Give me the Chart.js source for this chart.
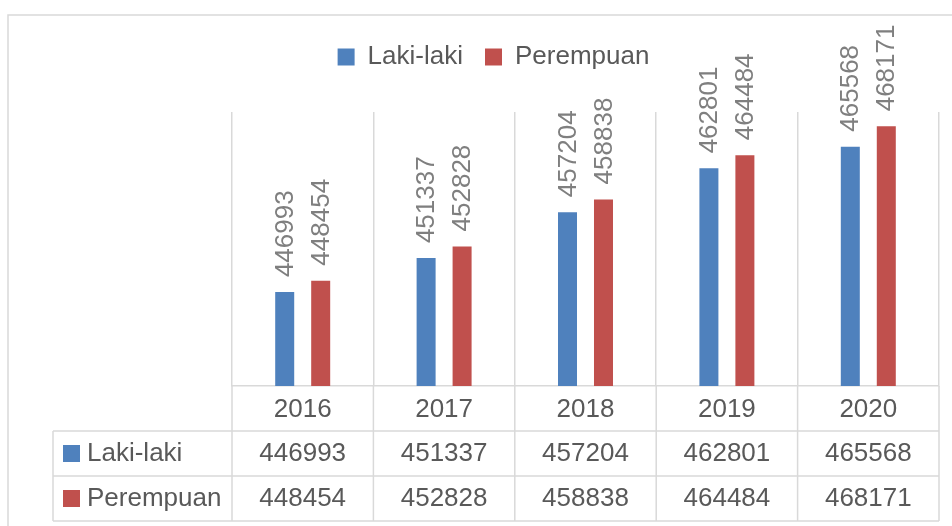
<!DOCTYPE html>
<html>
<head>
<meta charset="utf-8">
<script src="https://cdn.jsdelivr.net/npm/chart.js@4.4.0/dist/chart.umd.min.js"></script>
<style>
  html, body { margin: 0; padding: 0; background: #fff; }
  #wrap { width: 952px; height: 526px; }
</style>
</head>
<body>
<div id="wrap"><canvas id="chart"></canvas></div>
<script>
// Data
const years = ["2016", "2017", "2018", "2019", "2020"];
const lakiLaki = [446993, 451337, 457204, 462801, 465568];
const perempuan = [448454, 452828, 458838, 464484, 468171];
const seriesNames = ["Laki-laki", "Perempuan"];
const yMin = 435000;
const yMax = 470000;

const colors = ["#4f81bd", "#c0504d"];
const gridColor = "#d9d9d9";
const textColor = "#595959";
const fontFamily = "'Liberation Sans', Arial, sans-serif";
const rowHeight = 45;

// Give the legend the room above the plot
const legendSpace = {
  id: "legendSpace",
  beforeInit(chart) {
    const fit = chart.legend.fit;
    chart.legend.fit = function () {
      fit.call(this);
      this.height = 90;
    };
  }
};

// Rotated value labels above each bar
const barLabels = {
  id: "barLabels",
  afterDatasetsDraw(chart) {
    const ctx = chart.ctx;
    ctx.save();
    ctx.font = "26px " + fontFamily;
    ctx.fillStyle = "#7f7f7f";
    ctx.textAlign = "left";
    ctx.textBaseline = "middle";
    chart.data.datasets.forEach((ds, d) => {
      chart.getDatasetMeta(d).data.forEach((bar, i) => {
        ctx.save();
        ctx.translate(bar.x, bar.y - 15);
        ctx.rotate(-Math.PI / 2);
        ctx.fillText(String(ds.data[i]), 0, 1);
        ctx.restore();
      });
    });
    ctx.restore();
  }
};

// Data table under the axis, plus the outer frame
const dataTable = {
  id: "dataTable",
  afterDraw(chart) {
    const ctx = chart.ctx;
    const area = chart.chartArea;
    const n = years.length;
    const colW = (area.right - area.left) / n;
    const tableTop = area.bottom + rowHeight;
    const tableBottom = tableTop + rowHeight * 2;
    const tableLeft = 53;

    ctx.save();
    ctx.strokeStyle = gridColor;
    ctx.lineWidth = 1.5;
    ctx.beginPath();
    for (let i = 0; i <= n; i++) {
      const x = area.left + i * colW;
      ctx.moveTo(x, area.bottom);
      ctx.lineTo(x, tableBottom);
    }
    for (let r = 0; r <= 2; r++) {
      const y = tableTop + r * rowHeight;
      ctx.moveTo(tableLeft, y);
      ctx.lineTo(area.right, y);
    }
    ctx.moveTo(tableLeft, tableTop);
    ctx.lineTo(tableLeft, tableBottom);
    // frame
    ctx.moveTo(8, chart.height);
    ctx.lineTo(8, 15);
    ctx.lineTo(chart.width, 15);
    ctx.stroke();

    ctx.font = "26px " + fontFamily;
    ctx.textBaseline = "middle";
    [lakiLaki, perempuan].forEach((values, r) => {
      const cy = tableTop + r * rowHeight + rowHeight / 2;
      ctx.fillStyle = colors[r];
      ctx.fillRect(63, cy - 8.5, 17, 17);
      ctx.fillStyle = textColor;
      ctx.textAlign = "left";
      ctx.fillText(seriesNames[r], 87, cy);
      ctx.textAlign = "center";
      values.forEach((v, i) => {
        ctx.fillText(String(v), area.left + (i + 0.5) * colW, cy);
      });
    });
    ctx.restore();
  }
};

new Chart(document.getElementById("chart"), {
  type: "bar",
  data: {
    labels: years,
    datasets: [
      { label: seriesNames[0], data: lakiLaki, backgroundColor: colors[0] },
      { label: seriesNames[1], data: perempuan, backgroundColor: colors[1] }
    ]
  },
  options: {
    responsive: true,
    maintainAspectRatio: false,
    animation: false,
    categoryPercentage: 0.509,
    barPercentage: 0.528,
    layout: { padding: { left: 48, right: 13, top: 22, bottom: 0 } },
    plugins: {
      legend: {
        position: "top",
        labels: {
          boxWidth: 17,
          boxHeight: 17,
          padding: 22,
          color: textColor,
          font: { family: fontFamily, size: 26 }
        }
      },
      tooltip: { enabled: false }
    },
    scales: {
      x: {
        grid: { offset: true, color: gridColor, lineWidth: 1.5, drawTicks: false },
        border: { color: gridColor, width: 1.5 },
        ticks: { color: textColor, padding: 8, font: { family: fontFamily, size: 26 } },
        afterFit: (s) => { s.height = 140; }
      },
      y: {
        min: yMin,
        max: yMax,
        grid: { display: false },
        border: { display: false },
        ticks: { display: false },
        afterFit: (s) => { s.width = 184; }
      }
    }
  },
  plugins: [legendSpace, barLabels, dataTable]
});
</script>
</body>
</html>
